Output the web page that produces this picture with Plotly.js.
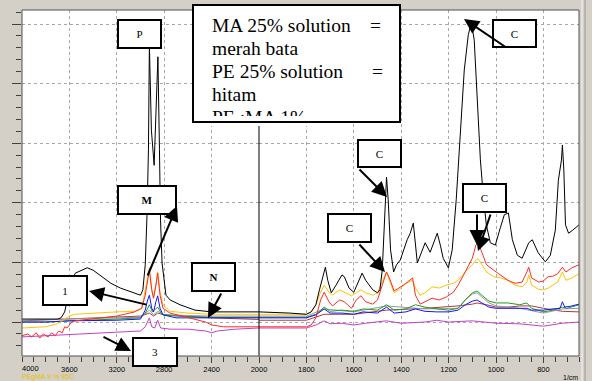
<!DOCTYPE html>
<html><head><meta charset="utf-8">
<script src="https://cdn.plot.ly/plotly-3.0.1.min.js"></script>
<style>html,body{margin:0;padding:0;background:#d4d0c8;overflow:hidden}#chart{width:592px;height:381px}</style>
</head><body><div id="chart"></div>
<script>
// ---- tick labels (wavenumber, 1/cm) ----
const ticksLeft = [3600, 3200, 2800, 2400, 2000];
const ticksRight = [1800, 1600, 1400, 1200, 1000, 800];

// ---- series: wavenumber (1/cm) and absorbance (arbitrary units, 1 per grid line) ----
const blackWn = [4000,3800,3700,3670,3640,3610,3580,3550,3500,3450,3400,3330,3250,3170,3060,3000,2980,2960,2945,2933,2925,2908,2885,2865,2853,2840,2831,2818,2785,2750,2667,2540,2400,2000,1870,1800,1780,1760,1745,1730,1720,1710,1695,1675,1650,1640,1620,1600,1580,1565,1550,1520,1500,1490,1480,1470,1462,1455,1445,1432,1420,1404,1375,1362,1349,1332,1299,1278,1248,1235,1223,1201,1185,1168,1151,1134,1117,1104,1092,1079,1066,1054,1041,1024,1003,982,965,948,931,910,890,862,847,822,792,771,750,737,724,720,714,707,694,677,660,650];
const blackAbs = [0.05,0.05,0.05,0.07,0.17,0.45,0.70,0.82,0.87,0.91,0.87,0.76,0.65,0.57,0.49,0.45,0.54,0.96,1.80,2.89,4.65,3.22,2.63,3.72,4.45,2.89,1.71,0.99,0.45,0.37,0.29,0.20,0.17,0.17,0.15,0.13,0.17,0.29,0.54,0.79,0.92,0.70,0.49,0.62,0.79,0.76,0.57,0.50,0.70,0.82,0.70,0.54,0.49,0.54,0.87,1.88,2.43,2.05,1.21,0.84,0.96,1.04,1.38,1.49,1.66,0.99,1.33,1.17,1.49,1.29,1.07,0.91,1.21,2.05,3.22,4.23,4.82,5.03,4.73,3.72,2.72,2.13,1.63,1.33,1.29,1.58,1.80,1.83,1.38,1.12,1.07,1.33,1.38,1.16,1.01,1.12,1.54,2.38,2.72,2.97,2.55,1.63,1.49,1.54,1.59,1.63];

const redWn = [4000,3950,3920,3880,3850,3820,3780,3750,3720,3690,3660,3640,3620,3580,3550,3400,3200,3050,2990,2960,2940,2925,2905,2890,2870,2855,2835,2810,2750,2600,2450,2400,2300,2000,1800,1780,1760,1740,1725,1705,1690,1660,1640,1610,1590,1570,1550,1520,1500,1480,1462,1450,1430,1410,1380,1352,1340,1320,1300,1270,1240,1210,1180,1160,1130,1100,1085,1075,1060,1040,1010,980,950,920,890,870,862,850,820,800,780,760,740,720,705,680,650];
const redAbs = [-0.23,-0.20,-0.25,-0.18,-0.27,-0.20,-0.25,-0.18,-0.23,-0.15,-0.18,-0.08,-0.10,0,0.02,0.05,0.10,0.17,0.23,0.45,0.70,0.87,0.54,0.40,0.62,0.82,0.45,0.23,0.15,0.07,0,-0.05,-0.08,-0.08,-0.08,-0.05,0.07,0.37,0.50,0.34,0.27,0.37,0.34,0.23,0.37,0.44,0.34,0.30,0.37,0.62,0.84,0.74,0.52,0.57,0.65,0.74,0.45,0.30,0.34,0.40,0.37,0.42,0.50,0.62,0.84,1.07,1.29,1.33,1.17,0.96,0.87,0.79,0.70,0.65,0.67,0.84,0.92,0.74,0.67,0.69,0.76,0.77,0.81,0.92,0.84,0.91,0.96];

const yellowWn = [4000,3800,3700,3650,3600,3550,3400,3200,3050,2990,2960,2940,2925,2905,2890,2870,2855,2835,2810,2750,2600,2400,2000,1800,1780,1760,1740,1725,1705,1690,1660,1640,1610,1590,1570,1550,1520,1500,1480,1462,1450,1430,1410,1380,1352,1340,1320,1300,1270,1240,1210,1180,1160,1130,1100,1085,1075,1060,1040,1010,980,950,920,890,870,862,850,820,800,780,760,740,720,705,680,650];
const yellowAbs = [-0.10,-0.08,-0.03,0.03,0.10,0.13,0.15,0.17,0.18,0.23,0.54,0.79,0.91,0.54,0.40,0.62,0.84,0.50,0.29,0.18,0.15,0.13,0.13,0.13,0.17,0.29,0.50,0.62,0.50,0.45,0.54,0.50,0.44,0.49,0.54,0.49,0.45,0.49,0.67,0.84,0.70,0.49,0.54,0.65,0.70,0.57,0.45,0.49,0.59,0.57,0.62,0.65,0.70,0.84,0.96,1.04,1.06,0.96,0.84,0.76,0.74,0.70,0.62,0.59,0.67,0.79,0.62,0.55,0.54,0.57,0.62,0.67,0.84,0.70,0.74,0.81];

const greenWn = [4000,3800,3600,3400,3200,3000,2960,2925,2900,2855,2820,2700,2400,2000,1800,1760,1725,1700,1650,1600,1560,1500,1462,1430,1380,1340,1300,1250,1200,1160,1130,1100,1080,1060,1030,1000,950,900,870,850,800,760,720,700,650];
const greenAbs = [0,0,0.02,0.03,0.05,0.07,0.15,0.29,0.17,0.25,0.13,0.10,0.08,0.08,0.08,0.13,0.25,0.18,0.20,0.18,0.22,0.20,0.29,0.20,0.22,0.29,0.25,0.22,0.20,0.23,0.37,0.49,0.52,0.45,0.35,0.32,0.32,0.29,0.32,0.23,0.17,0.20,0.25,0.23,0.29];

const blueWn = [4000,3800,3600,3400,3200,3000,2960,2940,2925,2905,2890,2870,2855,2835,2810,2700,2400,2000,1800,1760,1725,1700,1650,1600,1560,1500,1462,1430,1380,1340,1300,1250,1200,1160,1130,1100,1080,1060,1030,1000,950,900,870,850,800,760,730,720,710,680,650];
const blueAbs = [0,0,0.02,0.02,0.03,0.05,0.20,0.37,0.45,0.23,0.17,0.34,0.44,0.23,0.12,0.07,0.07,0.07,0.07,0.12,0.22,0.15,0.15,0.13,0.17,0.15,0.25,0.15,0.17,0.22,0.18,0.17,0.17,0.20,0.29,0.35,0.37,0.32,0.25,0.23,0.23,0.22,0.23,0.20,0.20,0.22,0.23,0.34,0.25,0.27,0.30];

const grayWn = [4000,3600,3000,2925,2890,2855,2800,2400,2000,1800,1725,1600,1462,1300,1160,1130,1100,1080,1060,1030,1000,900,800,720,650];
const grayAbs = [0.03,0.05,0.08,0.20,0.12,0.18,0.12,0.10,0.10,0.10,0.22,0.17,0.27,0.22,0.23,0.37,0.47,0.49,0.42,0.32,0.27,0.23,0.15,0.22,0.23];

const brownWn = [4000,3600,3000,2925,2890,2855,2800,2400,2000,1800,1725,1600,1462,1300,1200,1160,1100,1080,1040,1000,950,900,850,800,720,650];
const brownAbs = [0.02,0.05,0.10,0.15,0.10,0.15,0.12,0.07,0.03,0.03,0.13,0.13,0.20,0.23,0.25,0.27,0.30,0.32,0.29,0.25,0.25,0.27,0.27,0.23,0.18,0.17];

const magentaWn = [4000,3800,3600,3400,3200,3000,2960,2925,2905,2880,2855,2830,2750,2600,2450,2400,2350,2200,2000,1800,1760,1725,1700,1650,1600,1550,1462,1400,1300,1250,1200,1100,1000,900,800,720,650];
const magentaAbs = [-0.25,-0.23,-0.22,-0.20,-0.18,-0.15,-0.08,0.07,-0.08,-0.10,0.03,-0.10,-0.12,-0.12,-0.15,-0.18,-0.15,-0.12,-0.10,-0.10,-0.05,0.02,-0.03,-0.02,-0.05,-0.02,0.02,-0.02,0,0.03,0,0.02,-0.02,-0.03,-0.07,-0.02,0];

// ---- geometry helpers (page pixels -> paper fractions) ----
const PL = 22, PR = 579, PT = 10, PB = 356;
const px = x => (x - PL) / (PR - PL);
const py = y => (PB - y) / (PB - PT);
const split = (259 - PL) / (PR - PL);

const series = [
  [magentaWn, magentaAbs, '#c040c8'],
  [brownWn, brownAbs, '#a83c3c'],
  [grayWn, grayAbs, '#9a9a9a'],
  [greenWn, greenAbs, '#1e9e1e'],
  [blueWn, blueAbs, '#1414ff'],
  [yellowWn, yellowAbs, '#ffc400'],
  [redWn, redAbs, '#ff2a2a'],
  [blackWn, blackAbs, '#000000']
];
const traces = [];
series.forEach(([x, y, c]) => {
  ['x', 'x2'].forEach(ax => traces.push({
    x: x, y: y, xaxis: ax, yaxis: 'y', type: 'scatter', mode: 'lines',
    line: {color: c, width: 1}, hoverinfo: 'skip'
  }));
});

const tickFont = {family: 'Liberation Sans, Arial, sans-serif', size: 7.5, color: '#000'};
const grid = {showgrid: true, gridcolor: '#a8a8a8', griddash: '3px,3px', gridwidth: 1, zeroline: false, showline: false};

const ann = [];
// axis extras
ann.push({xref:'paper', yref:'paper', x:px(22), y:py(364), xanchor:'left', yanchor:'top', text:'4000', showarrow:false, font:tickFont, borderpad:0, borderwidth:0});
ann.push({xref:'paper', yref:'paper', x:px(563), y:py(381), xanchor:'left', yanchor:'bottom', text:'1/cm', showarrow:false, font:{family:'Liberation Sans, Arial', size:7, color:'#000'}, borderpad:0, borderwidth:0});
ann.push({xref:'paper', yref:'paper', x:px(22), y:py(381), xanchor:'left', yanchor:'bottom', text:'PEgMA 9 % 95C', showarrow:false, font:{family:'Liberation Sans, Arial', size:7, color:'#e8c000'}, borderpad:0, borderwidth:0});

// big legend text box
const serif = 'Liberation Serif, Times New Roman, serif';
ann.push({xref:'paper', yref:'paper', x:px(192), y:py(4), xanchor:'left', yanchor:'top', text:' ', width:209, height:119, bgcolor:'#fff', borderwidth:0, borderpad:0, showarrow:false});
const boxLines = [['MA 25% solution', 25.7], ['merah bata', 48.4], ['PE 25% solution', 71.4], ['hitam', 94.4], ['PE :MA 1%', 117.6]];
boxLines.forEach(([t, yc]) => ann.push({xref:'paper', yref:'paper', x:px(212), y:py(yc), xanchor:'left', yanchor:'middle', text:t, showarrow:false, font:{family:serif, size:19.5, color:'#000'}, borderpad:0, borderwidth:0}));
ann.push({xref:'paper', yref:'paper', x:px(375), y:py(25.7), xanchor:'center', yanchor:'middle', text:'=', showarrow:false, font:{family:serif, size:19.5, color:'#000'}, borderpad:0, borderwidth:0});
ann.push({xref:'paper', yref:'paper', x:px(377), y:py(71.4), xanchor:'center', yanchor:'middle', text:'=', showarrow:false, font:{family:serif, size:19.5, color:'#000'}, borderpad:0, borderwidth:0});
ann.push({xref:'paper', yref:'paper', x:px(195), y:py(116.5), xanchor:'left', yanchor:'top', text:' ', width:140, height:10, bgcolor:'#fff', borderwidth:0, borderpad:0, showarrow:false});
ann.push({xref:'paper', yref:'paper', x:px(192), y:py(4), xanchor:'left', yanchor:'top', text:' ', width:205, height:115, bgcolor:'rgba(0,0,0,0)', bordercolor:'#000', borderwidth:2, borderpad:0, showarrow:false});

// labelled boxes
function box(x0, y0, x1, y1, label, bold) {
  ann.push({xref:'paper', yref:'paper', x:px((x0 + x1) / 2), y:py((y0 + y1) / 2), xanchor:'center', yanchor:'middle',
    text: bold ? '<b>' + label + '</b>' : label, width:(x1 - x0) - 4, height:(y1 - y0) - 4,
    bgcolor:'#fff', bordercolor:'#000', borderwidth:2, borderpad:0, showarrow:false,
    font:{family:serif, size:11, color:'#000'}});
}
box(117, 19, 162, 49, 'P', false);
box(492, 19, 537, 48, 'C', false);
box(117, 185, 177, 215, 'M', true);
box(357, 139, 402, 168, 'C', false);
box(327, 213, 372, 243, 'C', false);
box(462, 183, 507, 213, 'C', false);
box(191, 262, 236, 292, 'N', true);
box(42, 275, 88, 306, '1', false);
box(132, 337, 178, 367, '3', false);

// arrows: tip (x,y), tail (tx,ty) in page pixels
function arrow(x, y, tx, ty) {
  ann.push({xref:'paper', yref:'paper', x:px(x), y:py(y), ax:tx - x, ay:ty - y, text:'', showarrow:true,
    arrowhead:2, arrowsize:1.5, arrowwidth:2, arrowcolor:'#000', standoff:0, startstandoff:0});
}
arrow(464, 19, 507, 48);
arrow(177, 206, 147, 277);
arrow(387, 197, 358, 168);
arrow(385, 272, 358, 243);
arrow(477, 245, 477, 213);
arrow(478, 251, 491, 213);
arrow(208, 318, 222, 292);
arrow(89, 291, 148, 305);
arrow(131, 351, 102, 336);

const layout = {
  width: 592, height: 381,
  margin: {l: PL, r: 592 - PR, t: PT, b: 381 - PB, pad: 0},
  paper_bgcolor: '#d4d0c8', plot_bgcolor: '#ffffff',
  showlegend: false,
  xaxis: Object.assign({domain: [0, split], range: [4000, 2000], anchor: 'y', tickmode: 'array',
    tickvals: ticksLeft, ticktext: ticksLeft.map(String), ticks: 'outside', ticklen: 6, tickcolor: '#404040', tickwidth: 1,
    tickfont: tickFont, minor: {tickmode: 'linear', tick0: 0, dtick: 100, ticks: 'outside', ticklen: 5, tickcolor: '#404040', showgrid: false}}, grid),
  xaxis2: Object.assign({domain: [split, 1], range: [2000, 650], anchor: 'y', tickmode: 'array',
    tickvals: ticksRight, ticktext: ticksRight.map(String), ticks: 'outside', ticklen: 6, tickcolor: '#404040', tickwidth: 1,
    tickfont: tickFont, minor: {tickmode: 'linear', tick0: 0, dtick: 50, ticks: 'outside', ticklen: 5, tickcolor: '#404040', showgrid: false}}, grid),
  yaxis: Object.assign({range: [-0.57, 5.235], tick0: 0, dtick: 1, showticklabels: false, ticks: 'outside', ticklen: 9,
    tickcolor: '#404040', minor: {dtick: 0.2, tick0: 0, ticks: 'outside', ticklen: 5, tickcolor: '#404040', showgrid: false}}, grid),
  shapes: [
    {type: 'line', xref: 'paper', yref: 'paper', x0: split, x1: split, y0: 0, y1: 1, line: {color: '#000', width: 1}, layer: 'above'},
    {type: 'rect', xref: 'paper', yref: 'paper', x0: 0, x1: 1, y0: 0, y1: 1, line: {color: '#505050', width: 1}, layer: 'above'},
    {type: 'line', xref: 'paper', yref: 'paper', x0: px(582), x1: px(582), y0: py(0), y1: py(381), line: {color: '#f4f4f4', width: 1}, layer: 'above'},
    {type: 'line', xref: 'paper', yref: 'paper', x0: px(585), x1: px(585), y0: py(0), y1: py(381), line: {color: '#9a9a9a', width: 1}, layer: 'above'}
  ],
  annotations: ann
};

Plotly.newPlot('chart', traces, layout, {staticPlot: true, displayModeBar: false});
</script>
</body></html>
